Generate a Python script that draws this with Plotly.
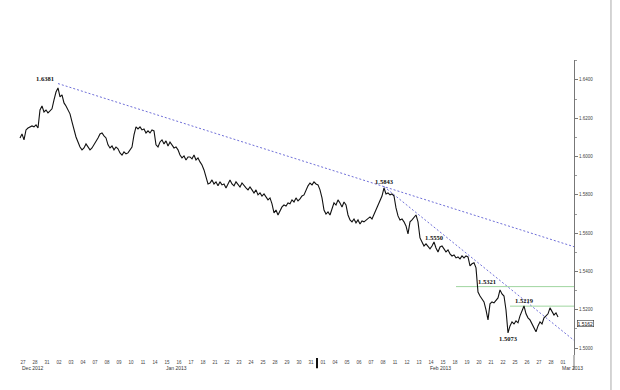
import plotly.graph_objects as go

# ---------------- data ----------------
trading_days = ["27", "28", "31", "02", "03", "04", "07", "08", "09", "10", "11", "14", "15", "16",
                "17", "18", "21", "22", "23", "24", "25", "28", "29", "30", "31", "01", "04", "05",
                "06", "07", "08", "11", "12", "13", "14", "15", "18", "19", "20", "21", "22", "25",
                "26", "27", "28", "01"]
month_labels = [("Dec 2012", 0), ("Jan 2013", 12), ("Feb 2013", 34), ("Mar 2013", 45)]
month_break = 24.5          # Jan / Feb boundary (session units)

bars_per_day = 6            # 4-hour bars
first_bar = -0.25           # session position of first bar

close = [
    1.6097, 1.6118, 1.6087, 1.6139, 1.6149, 1.6155, 1.6160, 1.6155, 1.6165, 1.6149,
    1.6243, 1.6264, 1.6233, 1.6243, 1.6228, 1.6238, 1.6249, 1.6296, 1.6337, 1.6358,
    1.6311, 1.6322, 1.6280, 1.6264, 1.6243, 1.6223, 1.6181, 1.6139, 1.6102, 1.6076,
    1.6050, 1.6035, 1.6045, 1.6066, 1.6050, 1.6035, 1.6045, 1.6061, 1.6082, 1.6097,
    1.6118, 1.6123, 1.6108, 1.6097, 1.6061, 1.6045, 1.6055, 1.6035, 1.6050, 1.6040,
    1.6019, 1.6008, 1.6024, 1.6014, 1.6019, 1.6035, 1.6050, 1.6113, 1.6155, 1.6144,
    1.6155, 1.6139, 1.6144, 1.6123, 1.6134, 1.6123, 1.6139, 1.6134, 1.6061, 1.6050,
    1.6076, 1.6087, 1.6066, 1.6082, 1.6055, 1.6076, 1.6061, 1.6045, 1.6050, 1.6035,
    1.6008, 1.5993, 1.6003, 1.5982, 1.5998, 1.5998, 1.5988, 1.6008, 1.5982, 1.5993,
    1.5972, 1.5956, 1.5930, 1.5888, 1.5857, 1.5862, 1.5878, 1.5857, 1.5868, 1.5847,
    1.5868, 1.5852, 1.5857, 1.5836, 1.5862, 1.5878, 1.5857, 1.5847, 1.5868, 1.5852,
    1.5841, 1.5862, 1.5847, 1.5836, 1.5826, 1.5841, 1.5826, 1.5810, 1.5826, 1.5800,
    1.5810, 1.5794, 1.5805, 1.5789, 1.5774, 1.5784, 1.5753, 1.5706, 1.5721, 1.5695,
    1.5716, 1.5737, 1.5747, 1.5742, 1.5758, 1.5753, 1.5774, 1.5763, 1.5784, 1.5768,
    1.5779, 1.5794, 1.5800, 1.5826, 1.5847, 1.5862, 1.5852, 1.5868, 1.5857, 1.5852,
    1.5826, 1.5784, 1.5721, 1.5700, 1.5711, 1.5695, 1.5732, 1.5758, 1.5747, 1.5774,
    1.5758, 1.5737, 1.5763, 1.5747, 1.5695, 1.5669, 1.5659, 1.5674, 1.5654, 1.5669,
    1.5648, 1.5664, 1.5659, 1.5669, 1.5680, 1.5685, 1.5674, 1.5700, 1.5721, 1.5742,
    1.5774, 1.5794, 1.5836, 1.5805, 1.5810, 1.5800, 1.5805, 1.5794, 1.5732, 1.5690,
    1.5669, 1.5674, 1.5659, 1.5638, 1.5596, 1.5659, 1.5669, 1.5685, 1.5695, 1.5659,
    1.5575, 1.5554, 1.5533, 1.5544, 1.5528, 1.5518, 1.5533, 1.5554, 1.5523, 1.5502,
    1.5528, 1.5533, 1.5518, 1.5502, 1.5513, 1.5492, 1.5481, 1.5486, 1.5471, 1.5476,
    1.5466, 1.5481, 1.5471, 1.5481, 1.5476, 1.5429, 1.5440, 1.5445, 1.5419, 1.5293,
    1.5272, 1.5257, 1.5241, 1.5199, 1.5147, 1.5231, 1.5241, 1.5236, 1.5252, 1.5262,
    1.5304, 1.5283, 1.5272, 1.5199, 1.5079, 1.5116, 1.5137, 1.5126, 1.5142, 1.5132,
    1.5168, 1.5199, 1.5220, 1.5179, 1.5158, 1.5147, 1.5126, 1.5105, 1.5085, 1.5116,
    1.5137, 1.5126, 1.5158, 1.5168, 1.5179, 1.5210, 1.5189, 1.5173, 1.5184, 1.5162,
]

# swing labels: (bar index, labelled price, placement)
swings = [
    (19, 1.6381, "left"),
    (182, 1.5843, "above"),
    (207, 1.5550, "above"),
    (240, 1.5321, "left"),
    (252, 1.5219, "above"),
    (244, 1.5073, "below"),
]
# trend lines: two anchors (bar index, price) each, extended to the right edge
trend_lines = [((19, 1.6381), (182, 1.5843)),
               ((182, 1.5843), (260, 1.5184))]
# horizontal levels: (start bar index, price)
levels = [(218, 1.5321), (245, 1.5219)]

y_range = [1.4964, 1.6504]
x_range = [-0.417, 45.917]

# ---------------- figure ----------------
def bar_pos(k):
    return first_bar + k / bars_per_day

t = [bar_pos(k) for k in range(len(close))]

fig = go.Figure()

for (k1, p1), (k2, p2) in trend_lines:
    x1, x2 = bar_pos(k1), bar_pos(k2)
    slope = (p2 - p1) / (x2 - x1)
    xe = x_range[1]
    fig.add_trace(go.Scatter(x=[x1, xe], y=[p1, p1 + slope * (xe - x1)], mode="lines",
                             line=dict(color="#6f6fd8", width=1, dash="2px,2px"),
                             hoverinfo="skip", showlegend=False))

for k, p in levels:
    fig.add_trace(go.Scatter(x=[bar_pos(k), x_range[1]], y=[p, p], mode="lines",
                             line=dict(color="#9fd59f", width=1),
                             hoverinfo="skip", showlegend=False))

fig.add_trace(go.Scatter(x=t, y=close, mode="lines",
                         line=dict(color="#111111", width=1.1),
                         showlegend=False))

lab_font = dict(family="Liberation Serif", size=6.5, color="#111111")
for k, p, where in swings:
    a = dict(x=bar_pos(k), y=p, text="<b>%.4f</b>" % p, showarrow=False, font=lab_font)
    if where == "left":
        a.update(xanchor="right", yanchor="bottom", xshift=-2, yshift=0)
    elif where == "above":
        a.update(xanchor="center", yanchor="bottom", yshift=0)
    else:
        a.update(xanchor="center", yanchor="middle", yshift=-4)
    fig.add_annotation(**a)

# month labels
for txt, i in month_labels:
    fig.add_annotation(x=i, y=-0.045, yref="paper", text=txt, showarrow=False,
                       xanchor="left", yanchor="middle", xshift=-3,
                       font=dict(family="Liberation Sans", size=5, color="#333333"))

# current price tag
fig.add_annotation(x=1, xref="paper", y=close[-1], text="%.4f" % close[-1], showarrow=False,
                   xanchor="left", yanchor="middle", xshift=3, yshift=-6,
                   font=dict(family="Liberation Sans", size=5, color="#111111"),
                   bordercolor="#333333", borderwidth=0.6, borderpad=0, bgcolor="white")

# month separator, axis extension, page border
fig.add_shape(type="line", x0=month_break, x1=month_break, xref="x",
              y0=-0.01, y1=-0.045, yref="paper", line=dict(color="#111111", width=2))
fig.add_shape(type="line", x0=1, x1=1, xref="paper", y0=0, y1=-0.05, yref="paper",
              line=dict(color="#777777", width=1))
fig.add_shape(type="line", x0=1.0665, x1=1.0665, xref="paper", y0=-0.12, y1=1.21,
              yref="paper", line=dict(color="#aaaaaa", width=1))

fig.update_layout(
    width=620, height=390,
    margin=dict(l=18, r=46, t=60, b=35),
    paper_bgcolor="white", plot_bgcolor="white",
    font=dict(family="Liberation Sans", size=5, color="#333333"),
    xaxis=dict(range=x_range, tickmode="array", tickvals=list(range(len(trading_days))),
               ticktext=trading_days, showgrid=False, zeroline=False, showline=False,
               ticks="", ticklabelstandoff=3, tickfont=dict(size=4.5, color="#444444")),
    yaxis=dict(range=y_range, side="right", showgrid=False, zeroline=False,
               showline=True, linecolor="#777777", linewidth=1,
               ticks="outside", ticklen=3, tickcolor="#777777",
               tick0=1.5, dtick=0.02, tickformat=".4f",
               minor=dict(ticks="outside", ticklen=2, dtick=0.01, tickcolor="#999999"),
               tickfont=dict(size=4.5, color="#444444")),
)

fig.write_html("out.html")
